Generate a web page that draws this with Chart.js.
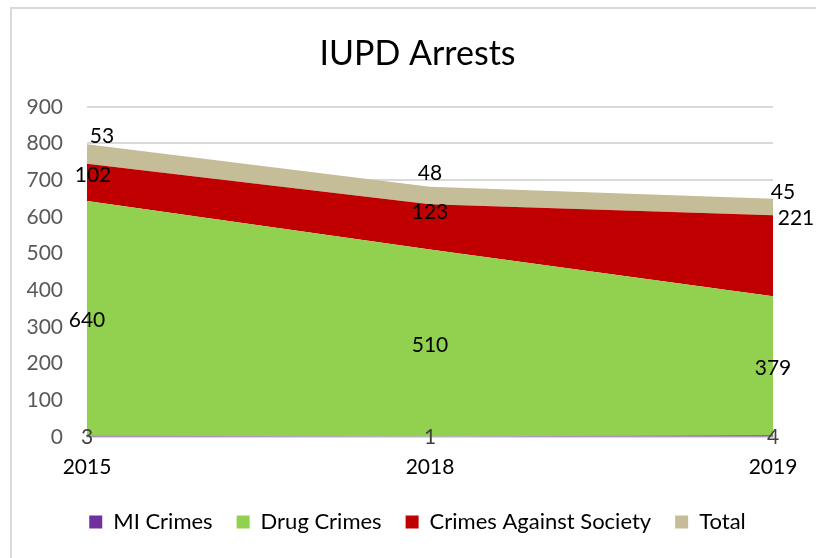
<!DOCTYPE html>
<html>
<head>
<meta charset="utf-8">
<script src="https://cdn.jsdelivr.net/npm/chart.js@4.4.1/dist/chart.umd.min.js"></script>
<style>
  html, body { margin: 0; padding: 0; background: #fff; }
  #wrap { position: relative; width: 816px; height: 558px; overflow: hidden; }
  #frame {
    position: absolute; left: 10px; top: 7px; width: 900px; height: 700px;
    border-left: 2px solid #d9d9d9; border-top: 2px solid #d9d9d9;
  }
  canvas { position: absolute; left: 0; top: 0; }
</style>
</head>
<body>
<div id="wrap">
  <div id="frame"></div>
  <canvas id="grafico" width="816" height="558"></canvas>
</div>
<script>
  // dados
  const anos = ["2015", "2018", "2019"];
  const miCrimes = [3, 1, 4];
  const drogas = [640, 510, 379];
  const contraSociedade = [102, 123, 221];
  const total = [53, 48, 45];
  const ticksY = [0, 100, 200, 300, 400, 500, 600, 700, 800, 900];

  // ajuste fino dos rótulos (px), por série e por ano
  const deslocRotulos = [
    [{ dx: 0, dy: 1 }, { dx: 0, dy: 1 }, { dx: 0, dy: 1 }],
    [{ dx: 0, dy: 2 }, { dx: 0, dy: 2 }, { dx: 0, dy: 2 }],
    [{ dx: 6, dy: -7 }, { dx: 0, dy: -15 }, { dx: 23, dy: -38 }],
    [{ dx: 15, dy: -18 }, { dx: 0, dy: -22 }, { dx: 10, dy: -15 }],
  ];

  const FONTE = "Lato, 'Open Sans', sans-serif";

  // título e legenda centrados na moldura, não só na área à direita do eixo
  const centralizar = {
    id: "centralizar",
    afterLayout(chart) {
      const mover = (b, dx, dy) => {
        if (!b) return;
        b.left += dx;
        b.right += dx;
        b.top += dy;
        b.bottom += dy;
      };
      mover(chart.titleBlock, 21, 2);
      mover(chart.legend, 21, -3);
    },
  };

  const rotulosArea = {
    id: "rotulosArea",
    afterDraw(chart) {
      const ctx = chart.ctx;
      const y = chart.scales.y;
      const base = anos.map(() => 0);
      ctx.save();
      ctx.font = "21px " + FONTE;
      ctx.textAlign = "center";
      ctx.textBaseline = "middle";
      chart.data.datasets.forEach((ds, di) => {
        const meta = chart.getDatasetMeta(di);
        ds.data.forEach((v, i) => {
          const pt = meta.data[i];
          const d = deslocRotulos[di][i];
          const py = y.getPixelForValue(base[i] + v / 2);
          ctx.fillStyle = di === 0 ? "#404040" : "#000";
          ctx.fillText(String(v), pt.x + d.dx, py + d.dy);
          base[i] += v;
        });
      });
      ctx.restore();
    },
  };

  function serie(label, data, cor, fill) {
    return {
      label,
      data,
      backgroundColor: cor,
      borderColor: cor,
      borderWidth: 0,
      pointRadius: 0,
      tension: 0,
      fill,
    };
  }

  new Chart(document.getElementById("grafico").getContext("2d"), {
    type: "line",
    data: {
      labels: anos,
      datasets: [
        serie("MI Crimes", miCrimes, "#7030a0", "origin"),
        serie("Drug Crimes", drogas, "#92d050", "-1"),
        serie("Crimes Against Society", contraSociedade, "#c00000", "-1"),
        serie("Total", total, "#c4bd97", "-1"),
      ],
    },
    options: {
      responsive: false,
      animation: false,
      events: [],
      layout: { padding: { left: 20, right: 43, top: 0, bottom: 12 } },
      scales: {
        x: {
          offset: false,
          z: 1,
          grid: { display: false },
          border: { display: true, color: "#d9d9d9", width: 2 },
          ticks: { color: "#000", font: { family: FONTE, size: 21 }, padding: 10, maxRotation: 0 },
        },
        y: {
          stacked: true,
          min: 0,
          max: 900,
          afterBuildTicks(s) {
            s.ticks = ticksY.map((v) => ({ value: v }));
          },
          afterFit(s) {
            s.width = 67;
          },
          grid: { color: "#d9d9d9", lineWidth: 2, drawTicks: false },
          border: { display: false },
          ticks: { color: "#595959", font: { family: FONTE, size: 21 }, padding: 24 },
        },
      },
      plugins: {
        title: {
          display: true,
          text: "IUPD Arrests",
          color: "#000",
          font: { family: FONTE, size: 34, weight: "normal" },
          padding: { top: 32, bottom: 34 },
        },
        legend: {
          position: "bottom",
          labels: {
            color: "#000",
            font: { family: FONTE, size: 22 },
            boxWidth: 13,
            boxHeight: 13,
            padding: 24,
          },
        },
        tooltip: { enabled: false },
      },
    },
    plugins: [centralizar, rotulosArea],
  });
</script>
</body>
</html>
